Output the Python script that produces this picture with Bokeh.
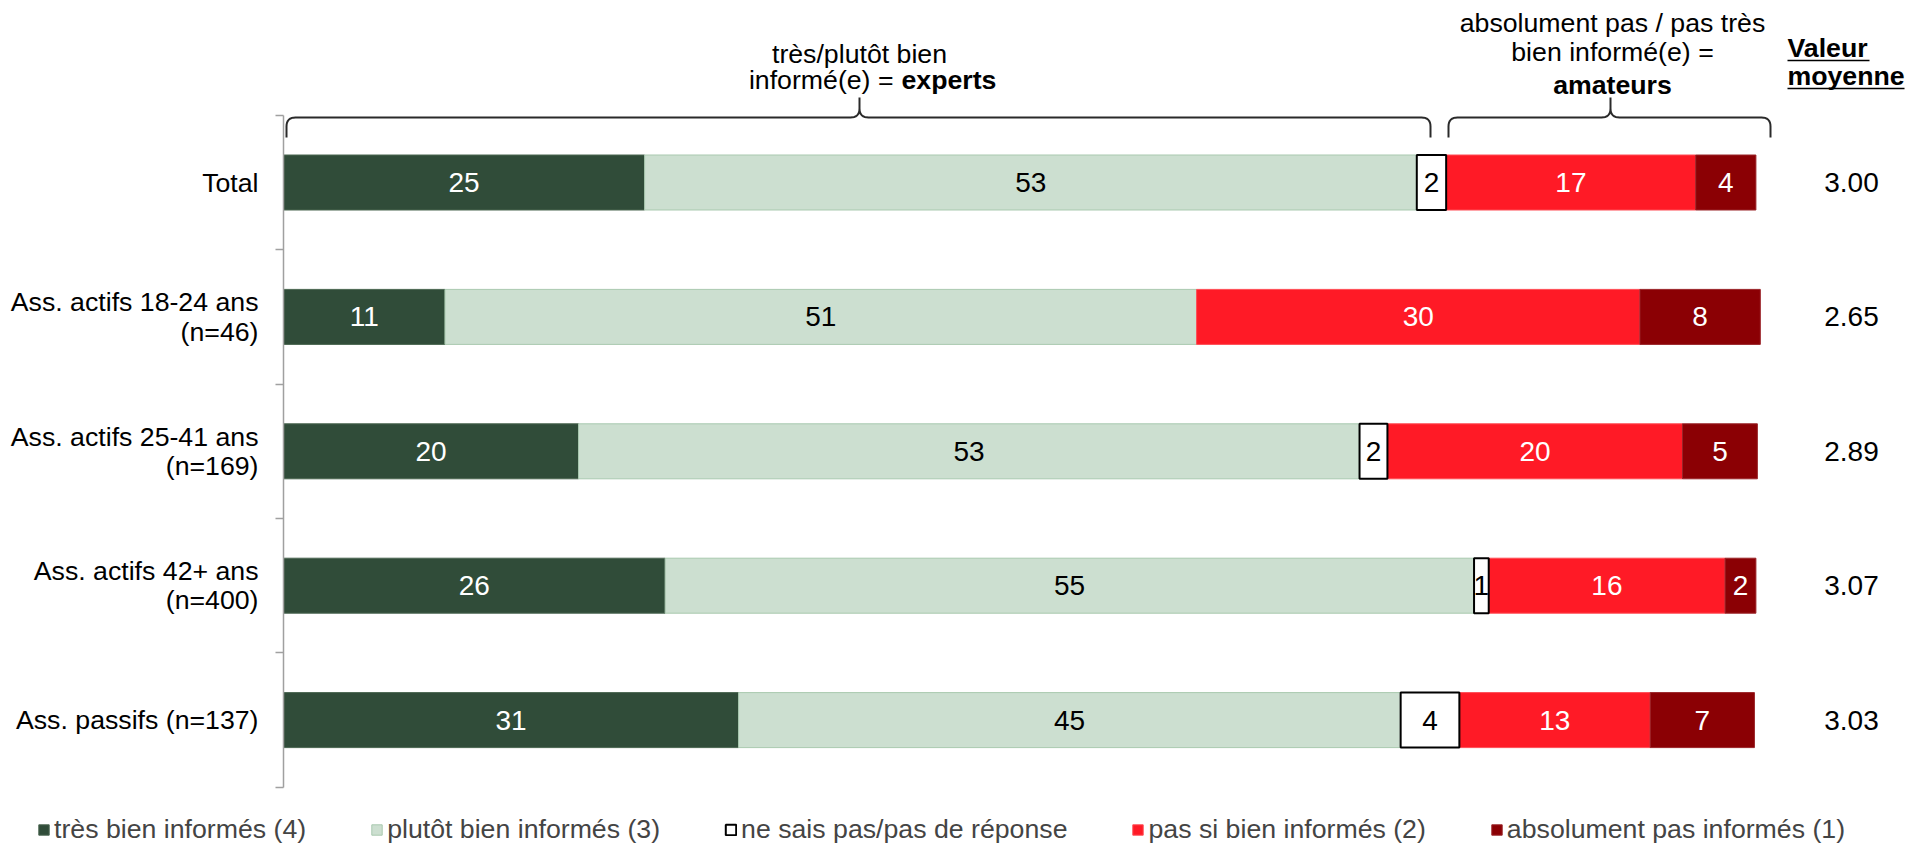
import math
from bokeh.plotting import figure
from bokeh.models import (ColumnDataSource, LinearAxis, FixedTicker, Range1d,
                          Legend, LegendItem)
from bokeh.core.properties import value
from bokeh.embed import file_html
from bokeh.resources import INLINE

# ---------------- data ----------------
categories = ["Total",
              "Ass. actifs 18-24 ans\n(n=46)",
              "Ass. actifs 25-41 ans\n(n=169)",
              "Ass. actifs 42+ ans\n(n=400)",
              "Ass. passifs (n=137)"]
series_names = ["très bien informés (4)",
                "plutôt bien informés (3)",
                "ne sais pas/pas de réponse",
                "pas si bien informés (2)",
                "absolument pas informés (1)"]
tres_bien = [24.6, 11.0, 20.1, 26.0, 31.0]
plutot_bien = [52.6, 51.2, 53.2, 55.1, 45.1]
ne_sais_pas = [2.0, 0.0, 1.9, 1.0, 4.0]
pas_si_bien = [17.0, 30.2, 20.1, 16.1, 13.0]
absolument_pas = [4.1, 8.2, 5.1, 2.1, 7.1]
valeur_moyenne = [3.00, 2.65, 2.89, 3.07, 3.03]

experts_lines = ["très/plutôt bien", "informé(e) =", "experts"]
amateurs_lines = ["absolument pas / pas très", "bien informé(e) =", "amateurs"]
header_lines = ["Valeur", "moyenne"]

# ---------------- style ----------------
fill_colors = ["#304C39", "#CCDFD0", "#FFFFFF", "#FF1A26", "#8B0004"]
line_colors = ["#4A6651", "#A9C9AF", "#000000", "#FF4D55", "#9A2428"]
line_widths = [1, 1, 2, 1, 1]
text_colors = ["white", "black", "black", "white", "white"]
FONT = "Liberation Sans"
FS = "26.7px"
FS_NUM = "28px"

W, H = 1908, 847
RB = 0
X0, SX = 283.0, 14.68       # x=0 at px 283, px per unit
Y0, SY = 182.0, 134.4       # row 0 centre at px 182, px per row
BAR_H = 55.0 / SY


def dx(px):
    return (px - X0) / SX


def dy(py):
    return (py - Y0) / SY


p = figure(width=W, height=H,
           x_range=Range1d(dx(0), dx(W - RB)),
           y_range=Range1d(dy(H), dy(0)),
           x_axis_location=None, y_axis_location=None,
           toolbar_location=None, output_backend="svg",
           min_border_left=0, min_border_right=RB,
           min_border_top=0, min_border_bottom=0,
           outline_line_color=None, background_fill_color="white",
           border_fill_color="white")
p.grid.visible = False

# ---------------- stacked bars ----------------
series = [tres_bien, plutot_bien, ne_sais_pas, pas_si_bien, absolument_pas]
n = len(categories)
cum = [0.0] * n
srcs = []
lab = dict(x=[], y=[], text=[], color=[])
for s, vals in enumerate(series):
    d = dict(y=[], left=[], right=[])
    for i, v in enumerate(vals):
        if v > 0:
            d["y"].append(i)
            d["left"].append(cum[i])
            d["right"].append(cum[i] + v)
            lab["x"].append(cum[i] + v / 2)
            lab["y"].append(i)
            lab["text"].append(str(int(math.floor(v + 0.5))))
            lab["color"].append(text_colors[s])
        cum[i] += v
    srcs.append(ColumnDataSource(d))

rend = {}
for s in [0, 1, 3, 4, 2]:
    rend[s] = p.hbar(y="y", left="left", right="right", height=BAR_H,
                     source=srcs[s], fill_color=fill_colors[s],
                     line_color=line_colors[s], line_width=line_widths[s])

p.text(x="x", y="y", text="text", text_color="color",
       source=ColumnDataSource(lab), text_font=value(FONT),
       text_font_size=value(FS_NUM), text_align="center", text_baseline="middle")

# ---------------- mean values column ----------------
p.text(x=[dx(1851)] * n, y=list(range(n)),
       text=[f"{v:.2f}" for v in valeur_moyenne], text_color="black",
       text_font=value(FONT), text_font_size=value(FS_NUM),
       text_align="center", text_baseline="middle")

p.text(x=[dx(1787)] * 2, y=[dy(47), dy(75)], text=header_lines,
       text_color="black", text_font=value(FONT), text_font_size=value(FS),
       text_font_style="bold", text_align="left", text_baseline="middle")
p.segment(x0=[dx(1787)] * 2, x1=[dx(1787 + 82), dx(1787 + 117)],
          y0=[dy(60), dy(88)], y1=[dy(60), dy(88)],
          line_color="black", line_width=1.5)

# ---------------- group headers ----------------
p.text(x=[dx(859)], y=[dy(53)], text=[experts_lines[0]], text_color="black",
       text_font=value(FONT), text_font_size=value(FS),
       text_align="center", text_baseline="middle")
p.text(x=[dx(893)], y=[dy(79)], text=[experts_lines[1]], text_color="black",
       text_font=value(FONT), text_font_size=value(FS),
       text_align="right", text_baseline="middle")
p.text(x=[dx(901)], y=[dy(79)], text=[experts_lines[2]], text_color="black",
       text_font=value(FONT), text_font_size=value(FS), text_font_style="bold",
       text_align="left", text_baseline="middle")

p.text(x=[dx(1612)] * 2, y=[dy(22), dy(51)], text=amateurs_lines[:2],
       text_color="black", text_font=value(FONT), text_font_size=value(FS),
       text_align="center", text_baseline="middle")
p.text(x=[dx(1612)], y=[dy(84)], text=[amateurs_lines[2]], text_color="black",
       text_font=value(FONT), text_font_size=value(FS), text_font_style="bold",
       text_align="center", text_baseline="middle")


# ---------------- curly brackets ----------------
def brace(xa, xb, xm, yh=117.0, ye=137.0, yt=97.0, r=9.0):
    pts = []

    def quad(p0, c, p1, k=8):
        for j in range(1, k + 1):
            t = j / k
            x = (1 - t) ** 2 * p0[0] + 2 * (1 - t) * t * c[0] + t ** 2 * p1[0]
            y = (1 - t) ** 2 * p0[1] + 2 * (1 - t) * t * c[1] + t ** 2 * p1[1]
            pts.append((x, y))
    pts.append((xa, ye))
    pts.append((xa, yh + r))
    quad((xa, yh + r), (xa, yh), (xa + r, yh))
    pts.append((xm - r, yh))
    quad((xm - r, yh), (xm, yh), (xm, yh - r))
    pts.append((xm, yt))
    pts.append((xm, yh - r))
    quad((xm, yh - r), (xm, yh), (xm + r, yh))
    pts.append((xb - r, yh))
    quad((xb - r, yh), (xb, yh), (xb, yh + r))
    pts.append((xb, ye))
    return [dx(a) for a, b in pts], [dy(b) for a, b in pts]


for xa, xb, xm in [(286, 1430, 859), (1448, 1770, 1610)]:
    bx, by = brace(xa, xb, xm)
    p.line(bx, by, line_color="#2A2A2A", line_width=2)

# ---------------- category axis (drawn at x = 0) ----------------
ax = LinearAxis(fixed_location=0,
                ticker=FixedTicker(ticks=[], minor_ticks=[k - 0.5 for k in range(n + 1)]),
                bounds=(-0.5, n - 0.5),
                axis_line_color="#A0A0A0", axis_line_width=1.5,
                major_tick_line_color=None, minor_tick_line_color="#A0A0A0",
                minor_tick_line_width=1.5, minor_tick_in=8, minor_tick_out=0,
                major_tick_in=0, major_tick_out=0,
                major_label_text_font_size="0px")
p.add_layout(ax, "right")

LH = 29.5
cat = dict(x=[], y=[], text=[])
for i, c in enumerate(categories):
    lines = c.split("\n")
    for k, t in enumerate(lines):
        off = (k - (len(lines) - 1) / 2) * LH
        cat["x"].append(0)
        cat["y"].append(i + off / SY)
        cat["text"].append(t)
p.text(x="x", y="y", text="text", source=ColumnDataSource(cat),
       x_offset=-25, text_align="right", text_baseline="middle",
       text_font=value(FONT), text_font_size=value(FS), text_color="black")

# ---------------- legend ----------------
legend = Legend(items=[LegendItem(label=series_names[s], renderers=[rend[s]])
                       for s in range(5)],
                orientation="horizontal", location=(37, 2),
                glyph_width=13, glyph_height=13, label_standoff=4, spacing=64,
                padding=0, margin=0, border_line_color=None,
                background_fill_alpha=0, label_text_font=FONT,
                label_text_font_size=FS)
p.add_layout(legend)

open("out.html", "w").write(file_html(p, INLINE))
